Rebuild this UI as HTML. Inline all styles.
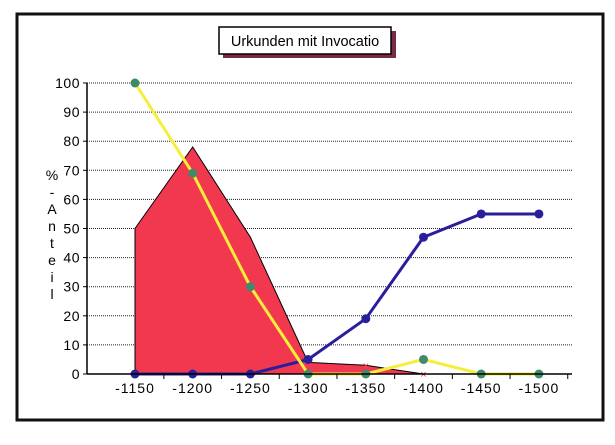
<!DOCTYPE html>
<html><head><meta charset="utf-8"><style>
body{margin:0;background:#fff;}
svg{display:block;font-family:"Liberation Sans",sans-serif;}
</style></head><body>
<svg id="chart" width="615" height="445">
<rect x="17" y="14" width="586" height="406" fill="#fff" stroke="#111" stroke-width="3"/>
<rect x="223" y="31" width="173" height="27" fill="#7a2a48"/>
<rect x="219" y="27" width="172" height="27" fill="#fff" stroke="#000" stroke-width="1.5"/>
<text x="305" y="46" font-size="14.5" text-anchor="middle">Urkunden mit Invocatio</text>
<g id="ylabel" font-size="14" text-anchor="middle"></g>
<g id="grid"></g><g id="area"></g><g id="lines"></g><g id="axes"></g>
</svg>
<script>
const categories=["-1150","-1200","-1250","-1300","-1350","-1400","-1450","-1500"];
const areaValues=[50,78,47,4,3,0,null,null];
const yellowValues=[100,69,30,0,0,5,0,0];
const blueValues=[0,0,0,5,19,47,55,55];
const yTicks=[0,10,20,30,40,50,60,70,80,90,100];
const NS="http://www.w3.org/2000/svg";
const X0=135,DX=57.7,Y0=374,YS=2.91,AXX=87,RIGHT=572;
const xs=i=>X0+i*DX, ys=v=>Y0-v*YS;
function mk(t,a,p){const e=document.createElementNS(NS,t);for(const k in a)e.setAttribute(k,a[k]);p.appendChild(e);return e;}
const g=document.getElementById('grid'),ax=document.getElementById('axes'),ar=document.getElementById('area'),ln=document.getElementById('lines');
const yl=document.getElementById('ylabel');
"%-Anteil".split("").forEach((c,i)=>{const t=mk('text',{x:52,y:180+i*17},yl);t.textContent=c;

});
yTicks.forEach(v=>{const y=ys(v);
if(v>0){const l=mk('line',{x1:AXX,x2:RIGHT,y1:y,y2:y,stroke:'#222','stroke-dasharray':'1,1'},g);

}
const tk=mk('line',{x1:AXX-4,x2:AXX,y1:y,y2:y,stroke:'#000'},ax);


const t=mk('text',{x:AXX-7,y:y+5,'font-size':14,'text-anchor':'end','letter-spacing':'0.5'},ax);t.textContent=v;

});
const ya=mk('line',{x1:AXX,x2:AXX,y1:ys(100),y2:Y0,stroke:'#000','stroke-width':1.5},ax);


const xa=mk('line',{x1:AXX,x2:RIGHT,y1:Y0,y2:Y0,stroke:'#000','stroke-width':1.5},ax);


categories.forEach((c,i)=>{const t=mk('text',{x:xs(i),y:393,'font-size':14,'text-anchor':'middle','letter-spacing':'1'},ax);t.textContent=c;


const tk=mk('line',{x1:xs(i)+DX/2,x2:xs(i)+DX/2,y1:Y0,y2:Y0+5,stroke:'#000'},ax);

});
let pts=[],last=0;areaValues.forEach((v,i)=>{if(v!==null){pts.push(xs(i)+','+ys(v));last=i;}});
const poly=mk('polygon',{points:xs(0)+','+Y0+' '+pts.join(' ')+' '+xs(last)+','+Y0,fill:'#f2384f',stroke:'#000','stroke-width':1},ar);


areaValues.forEach((v,i)=>{if(v!==null&&v<10){const t=mk('text',{x:xs(i),y:ys(v)+4,'font-size':11,fill:'#e44','text-anchor':'middle'},ar);t.textContent='×';

}});
function series(vals,col,mcol,name){
const pl=mk('polyline',{points:vals.map((v,i)=>xs(i)+','+ys(v)).join(' '),fill:'none',stroke:col,'stroke-width':3},ln);


vals.forEach((v,i)=>{const c=mk('circle',{cx:xs(i),cy:ys(v),r:4.5,fill:mcol},ln);

});}
series(blueValues,'#2a1f9a','#2a1f9a','blue-series');
series(yellowValues,'#f5ee3a','#3f8a6a','yellow-series');
</script>
</body></html>
